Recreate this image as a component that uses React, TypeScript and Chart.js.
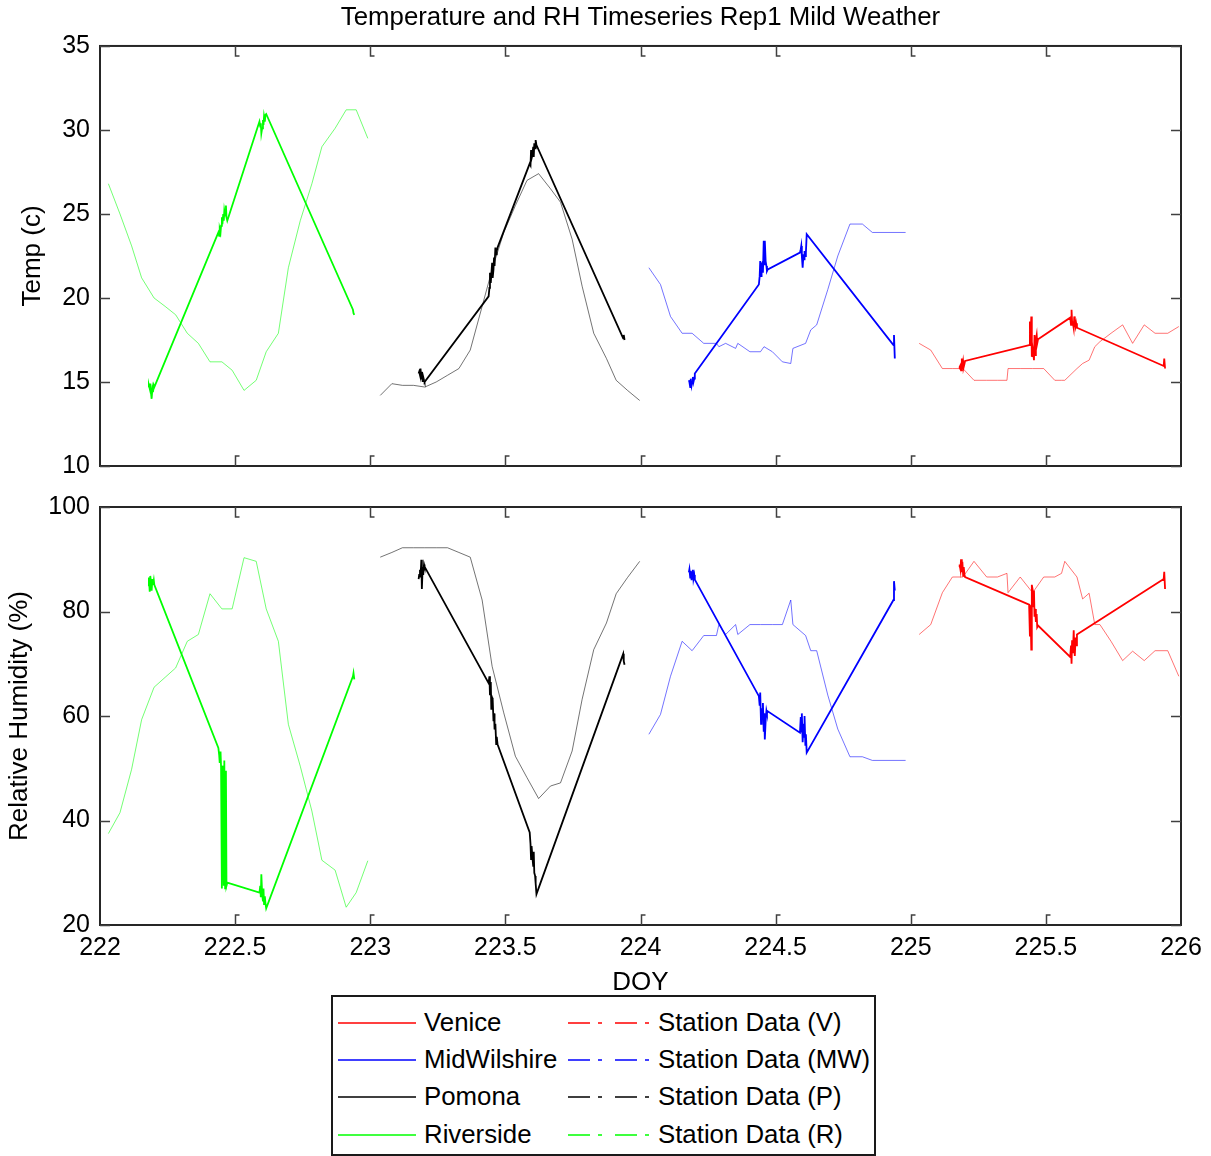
import React, { useEffect, useRef } from 'react';
import { Chart, registerables } from 'chart.js';

Chart.register(...registerables);

const FONT = "'Liberation Sans', Arial, Helvetica, sans-serif";

// ---------------- tick labels / axes ----------------
const xTicks = [222, 222.5, 223, 223.5, 224, 224.5, 225, 225.5, 226];
const tempTicks = [10, 15, 20, 25, 30, 35];
const rhTicks = [20, 40, 60, 80, 100];
const titleText = 'Temperature and RH Timeseries Rep1 Mild Weather';

// ---------------- days (DOY) of each site ----------------
const riversideDay = 222;
const pomonaDay = 223;
const midWilshireDay = 224;
const veniceDay = 225;

// ---------------- model series (time = fraction of day) ----------------
const riversideModelFrac = [0.031, 0.074, 0.117, 0.154, 0.2, 0.241, 0.28, 0.323, 0.364, 0.407, 0.451, 0.489, 0.533, 0.578, 0.615, 0.66, 0.697, 0.741, 0.784, 0.821, 0.87, 0.911, 0.948, 0.991];
const riversideModelTemp = [26.8, 25.0, 23.1, 21.2, 20.0, 19.5, 19.0, 17.9, 17.3, 16.2, 16.2, 15.7, 14.5, 15.1, 16.8, 17.9, 21.8, 24.6, 26.8, 29.0, 30.1, 31.2, 31.2, 29.5];
const riversideModelRH = [37.5, 41.5, 49.8, 59.3, 65.5, 67.4, 69.2, 74.3, 75.6, 83.4, 80.5, 80.5, 90.3, 89.6, 80.5, 74.3, 58.4, 50.4, 41.8, 32.4, 30.5, 23.4, 26.2, 32.3];

const pomonaModelFrac = [0.037, 0.08, 0.119, 0.16, 0.202, 0.244, 0.286, 0.328, 0.37, 0.414, 0.451, 0.494, 0.537, 0.58, 0.623, 0.667, 0.704, 0.747, 0.784, 0.827, 0.874, 0.91, 0.952, 0.997];
const pomonaModelTemp = [14.2, 14.9, 14.8, 14.8, 14.7, 15.0, 15.4, 15.8, 16.9, 19.5, 21.7, 23.9, 25.5, 27.0, 27.4, 26.5, 25.7, 23.5, 20.7, 17.9, 16.4, 15.1, 14.5, 13.9];
const pomonaModelRH = [90.4, 91.3, 92.2, 92.2, 92.2, 92.2, 92.2, 91.3, 90.4, 82.2, 69.5, 60.6, 52.3, 48.2, 44.2, 46.6, 47.2, 53.3, 63.2, 72.7, 77.8, 83.4, 86.5, 89.6];

const midWilshireModelFrac = [0.031, 0.074, 0.111, 0.154, 0.191, 0.234, 0.281, 0.29, 0.315, 0.352, 0.36, 0.405, 0.444, 0.457, 0.488, 0.525, 0.556, 0.564, 0.611, 0.63, 0.652, 0.693, 0.73, 0.775, 0.821, 0.858, 0.981];
const midWilshireModelTemp = [21.8, 20.8, 18.9, 17.9, 17.9, 17.3, 17.3, 17.1, 17.3, 17.0, 17.3, 16.8, 16.8, 17.1, 16.8, 16.2, 16.1, 17.0, 17.3, 18.1, 18.4, 20.5, 22.5, 24.4, 24.4, 23.9, 23.9];
const midWilshireModelRH = [56.5, 60.3, 67.6, 74.3, 72.5, 75.4, 75.4, 77.5, 75.6, 77.5, 75.6, 77.5, 77.5, 77.5, 77.5, 77.5, 82.2, 77.5, 75.4, 72.5, 72.5, 64.0, 57.5, 52.2, 52.2, 51.5, 51.5];

const veniceModelFrac = [0.031, 0.074, 0.117, 0.154, 0.193, 0.234, 0.281, 0.321, 0.356, 0.36, 0.405, 0.451, 0.492, 0.533, 0.558, 0.57, 0.615, 0.636, 0.66, 0.681, 0.7, 0.741, 0.784, 0.821, 0.864, 0.904, 0.951, 0.992];
const veniceModelTemp = [17.3, 16.9, 15.8, 15.8, 15.8, 15.1, 15.1, 15.1, 15.1, 15.8, 15.8, 15.8, 15.8, 15.1, 15.1, 15.1, 15.8, 16.1, 16.3, 17.1, 17.4, 17.9, 18.4, 17.3, 18.4, 17.9, 17.9, 18.3];
const veniceModelRH = [75.6, 77.5, 83.6, 86.6, 86.6, 89.6, 86.6, 86.6, 87.3, 83.6, 86.6, 83.6, 86.6, 86.6, 87.3, 89.6, 86.6, 82.4, 83.5, 77.5, 77.5, 74.3, 70.6, 72.4, 70.6, 72.5, 72.5, 67.6];

// ---------------- station series (shared sampling times, fraction of day) ----------------
const stationFrac = [
  0.179, 0.181, 0.184, 0.186, 0.189, 0.191, 0.194, 0.196, 0.199, 0.201,
  0.438, 0.441, 0.443, 0.446, 0.448, 0.451, 0.453, 0.456, 0.458, 0.46, 0.463, 0.466, 0.468, 0.471,
  0.59, 0.593, 0.595, 0.597, 0.6, 0.603, 0.605, 0.607, 0.61, 0.612, 0.615,
  0.936, 0.938, 0.941,
];
const riversideStationTemp = [14.7, 14.8, 14.6, 14.9, 14.3, 14.0, 14.6, 14.4, 14.8, 14.7, 23.9, 23.7, 24.1, 23.9, 24.3, 24.8, 24.4, 25.0, 24.6, 25.2, 24.9, 25.5, 24.8, 24.6, 30.5, 30.2, 30.4, 29.8, 30.1, 30.6, 30.3, 30.8, 30.5, 30.9, 30.95, 19.3, 19.1, 19.0];
const riversideStationRH = [84.9, 86.5, 83.8, 86.8, 85.5, 84.0, 86.2, 85.1, 86.0, 85.1, 53.9, 52.5, 51.0, 53.2, 50.2, 27.0, 50.5, 48.8, 27.5, 51.5, 27.0, 49.5, 27.5, 28.1, 26.2, 27.5, 25.3, 29.7, 26.0, 24.5, 27.0, 24.0, 25.5, 24.3, 23.2, 67.6, 68.2, 67.0];
const pomonaStationTemp = [15.5, 15.6, 15.4, 15.8, 15.2, 15.6, 15.0, 15.3, 15.1, 15.0, 20.1, 20.6, 21.5, 20.9, 21.4, 22.1, 21.2, 21.7, 22.4, 21.9, 23.0, 22.6, 22.8, 23.0, 28.0, 27.9, 28.8, 28.3, 28.5, 29.0, 28.4, 29.2, 28.9, 29.4, 29.1, 17.6, 17.8, 17.5];
const pomonaStationRH = [86.2, 87.0, 88.0, 86.5, 89.9, 84.3, 88.5, 87.0, 89.0, 88.6, 66.3, 67.6, 64.0, 66.5, 61.2, 63.5, 63.2, 59.0, 60.5, 57.4, 58.5, 54.6, 56.0, 54.6, 37.7, 35.5, 32.6, 35.1, 33.0, 31.3, 34.0, 30.0, 29.4, 28.0, 25.9, 71.9, 70.5, 69.8];
const midWilshireStationTemp = [15.1, 15.0, 14.7, 15.2, 14.8, 15.0, 15.3, 15.0, 15.2, 15.5, 20.8, 21.3, 22.2, 21.3, 22.0, 22.1, 21.5, 23.4, 22.0, 23.4, 22.2, 21.9, 21.6, 21.7, 22.7, 22.9, 23.1, 22.5, 21.8, 22.6, 22.3, 22.8, 22.5, 22.7, 23.8, 17.2, 17.8, 16.4];
const midWilshireStationRH = [87.5, 88.1, 86.5, 87.8, 86.0, 87.5, 88.0, 86.2, 87.0, 86.1, 63.8, 62.0, 64.5, 58.5, 61.5, 60.0, 62.5, 57.0, 60.5, 55.5, 59.0, 61.0, 60.5, 60.9, 56.8, 59.8, 57.0, 60.5, 55.0, 58.5, 56.0, 60.0, 54.5, 56.5, 53.0, 82.2, 85.8, 84.0];
const veniceStationTemp = [15.8, 15.9, 16.0, 15.7, 16.4, 15.8, 16.2, 15.9, 16.1, 16.25, 17.2, 18.6, 17.4, 18.9, 16.5, 17.0, 16.75, 16.3, 17.8, 16.6, 17.5, 17.8, 17.3, 17.54, 18.83, 18.4, 19.3, 18.6, 18.5, 18.2, 18.9, 18.6, 18.3, 18.5, 18.23, 15.95, 16.4, 15.8];
const veniceStationRH = [88.5, 89.0, 88.0, 90.0, 87.5, 89.5, 86.8, 88.5, 87.0, 86.6, 81.3, 75.2, 81.0, 72.7, 85.1, 84.2, 81.0, 84.0, 79.0, 80.5, 78.0, 79.5, 77.0, 77.3, 71.3, 73.5, 70.0, 74.5, 72.0, 76.4, 73.0, 71.5, 75.0, 73.5, 75.6, 86.2, 87.6, 84.3];

// ---------------- legend labels ----------------
const modelLabels = ['Venice', 'MidWilshire', 'Pomona', 'Riverside'];
const stationLabels = ['Station Data (V)', 'Station Data (MW)', 'Station Data (P)', 'Station Data (R)'];

// ---------------- styles ----------------
const RGB = ['255,0,0', '0,0,255', '0,0,0', '0,255,0']; // Venice, MW, Pomona, Riverside

function pts(day: number, frac: number[], vals: number[]) {
  return frac.map((f, i) => ({ x: day + f, y: vals[i] }));
}

function buildDatasets(kind: 'temp' | 'rh') {
  const T = kind === 'temp';
  const stations = [
    { day: veniceDay, mf: veniceModelFrac, mv: T ? veniceModelTemp : veniceModelRH, sv: T ? veniceStationTemp : veniceStationRH },
    { day: midWilshireDay, mf: midWilshireModelFrac, mv: T ? midWilshireModelTemp : midWilshireModelRH, sv: T ? midWilshireStationTemp : midWilshireStationRH },
    { day: pomonaDay, mf: pomonaModelFrac, mv: T ? pomonaModelTemp : pomonaModelRH, sv: T ? pomonaStationTemp : pomonaStationRH },
    { day: riversideDay, mf: riversideModelFrac, mv: T ? riversideModelTemp : riversideModelRH, sv: T ? riversideStationTemp : riversideStationRH },
  ];
  const stationSets = stations.map((s, i) => ({
    label: stationLabels[i],
    data: pts(s.day, stationFrac, s.sv),
    borderColor: `rgb(${RGB[i]})`,
    borderWidth: 1.8,
    showLine: true,
    pointRadius: 0,
    tension: 0,
  }));
  const modelSets = stations.map((s, i) => ({
    label: modelLabels[i],
    data: pts(s.day, s.mf, s.mv),
    borderColor: i === 2 ? 'rgba(0,0,0,0.55)' : `rgba(${RGB[i]},0.55)`,
    borderWidth: 1,
    showLine: true,
    pointRadius: 0,
    tension: 0,
  }));
  return [...stationSets, ...modelSets];
}

const boxPlugin = {
  id: 'matlabBox',
  afterDraw(chart: any, _args: any, opts: any) {
    const { ctx, chartArea } = chart;
    const { left, right, top, bottom } = chartArea;
    const xs = chart.scales.x;
    const ys = chart.scales.y;
    ctx.save();
    ctx.strokeStyle = '#262626';
    ctx.lineWidth = 2;
    ctx.strokeRect(left, top, right - left, bottom - top);
    ctx.strokeStyle = '#404040';
    ctx.lineWidth = 1.5;
    const L = 10;
    ctx.beginPath();
    (opts.xTicks || []).forEach((v: number) => {
      const px = Math.round(xs.getPixelForValue(v)) + 0.5;
      if (px <= left + 2 || px >= right - 2) return;
      ctx.moveTo(px, bottom);
      ctx.lineTo(px, bottom - L);
      ctx.lineTo(px + 4, bottom - L);
      ctx.moveTo(px, top);
      ctx.lineTo(px, top + L);
      ctx.lineTo(px + 4, top + L);
    });
    (opts.yTicks || []).forEach((v: number) => {
      const py = Math.round(ys.getPixelForValue(v)) + 0.5;
      ctx.moveTo(left, py);
      ctx.lineTo(left + L, py);
      ctx.moveTo(right, py);
      ctx.lineTo(right - L, py);
    });
    ctx.stroke();
    ctx.restore();
  },
};

function yAxis(min: number, max: number, step: number, title: string, titlePad: number) {
  return {
    type: 'linear',
    min,
    max,
    ticks: { stepSize: step, color: '#000', font: { size: 25, family: FONT }, padding: 10 },
    grid: { display: false, drawTicks: false },
    border: { display: false },
    title: { display: true, text: title, color: '#000', font: { size: 26, family: FONT }, padding: { top: titlePad, bottom: 0 } },
    afterFit: (s: any) => {
      s.width = 100;
    },
  };
}

export default function App() {
  const topRef = useRef<HTMLCanvasElement | null>(null);
  const botRef = useRef<HTMLCanvasElement | null>(null);

  useEffect(() => {
    if (!topRef.current || !botRef.current) return;
    const top = new Chart(topRef.current, {
      type: 'scatter',
      data: { datasets: buildDatasets('temp') as any },
      options: {
        animation: false,
        responsive: false,
        maintainAspectRatio: false,
        events: [],
        layout: { padding: { left: 0, right: 30, top: 0, bottom: 26 } },
        plugins: {
          legend: { display: false },
          tooltip: { enabled: false },
          title: {
            display: true,
            text: titleText,
            fullSize: false,
            color: '#000',
            font: { size: 25.8, family: FONT, weight: 'normal' },
            padding: { top: 2, bottom: 13 },
          },
          matlabBox: { xTicks, yTicks: tempTicks },
        } as any,
        scales: {
          x: { type: 'linear', min: 222, max: 226, display: false },
          y: yAxis(10, 35, 5, 'Temp (c)', 17) as any,
        },
      },
      plugins: [boxPlugin],
    });

    const bot = new Chart(botRef.current, {
      type: 'scatter',
      data: { datasets: buildDatasets('rh') as any },
      options: {
        animation: false,
        responsive: false,
        maintainAspectRatio: false,
        events: [],
        layout: { padding: { left: 0, right: 30, top: 27, bottom: 0 } },
        plugins: {
          legend: { display: false },
          tooltip: { enabled: false },
          matlabBox: { xTicks, yTicks: rhTicks },
        } as any,
        scales: {
          x: {
            type: 'linear',
            position: 'bottom',
            min: 222,
            max: 226,
            ticks: {
              stepSize: 0.5,
              autoSkip: false,
              maxRotation: 0,
              color: '#000',
              font: { size: 25, family: FONT },
              padding: 8,
              callback: (v: any) => String(v),
            },
            grid: { display: false, drawTicks: false },
            border: { display: false },
            title: { display: true, text: 'DOY', color: '#000', font: { size: 26, family: FONT }, padding: { top: 0, bottom: 2 } },
            afterFit: (s: any) => {
              s.height = 75;
            },
          } as any,
          y: yAxis(20, 100, 20, 'Relative Humidity (%)', 4) as any,
        },
      },
      plugins: [boxPlugin],
    });

    return () => {
      top.destroy();
      bot.destroy();
    };
  }, []);

  const rowY = [26, 63, 100, 138];

  return (
    <div style={{ position: 'absolute', left: 0, top: 0, width: 1211, height: 1156, background: '#fff', fontFamily: FONT }}>
      <canvas ref={topRef} width={1211} height={492} style={{ position: 'absolute', left: 0, top: 0, width: 1211, height: 492 }} />
      <canvas ref={botRef} width={1211} height={520} style={{ position: 'absolute', left: 0, top: 480, width: 1211, height: 520 }} />
      <div
        style={{
          position: 'absolute',
          left: 331,
          top: 995,
          width: 545,
          height: 161,
          boxSizing: 'border-box',
          border: '2px solid #1a1a1a',
          background: '#fff',
        }}
      >
        {modelLabels.map((lab, i) => (
          <React.Fragment key={lab}>
            <svg style={{ position: 'absolute', left: 5, top: rowY[i] - 4 }} width={78} height={8}>
              <line x1={0} y1={4} x2={78} y2={4} stroke={`rgb(${RGB[i]})`} strokeWidth={1.6} />
            </svg>
            <div style={{ position: 'absolute', left: 91, top: rowY[i] - 17, height: 32, lineHeight: '32px', fontSize: 25.8, color: '#000', whiteSpace: 'nowrap' }}>
              {lab}
            </div>
            <svg style={{ position: 'absolute', left: 235, top: rowY[i] - 4 }} width={82} height={8}>
              <line x1={0} y1={4} x2={82} y2={4} stroke={`rgb(${RGB[i]})`} strokeWidth={1.6} strokeDasharray="22 8 4 13" />
            </svg>
            <div style={{ position: 'absolute', left: 325, top: rowY[i] - 17, height: 32, lineHeight: '32px', fontSize: 25.8, color: '#000', whiteSpace: 'nowrap' }}>
              {stationLabels[i]}
            </div>
          </React.Fragment>
        ))}
      </div>
    </div>
  );
}
